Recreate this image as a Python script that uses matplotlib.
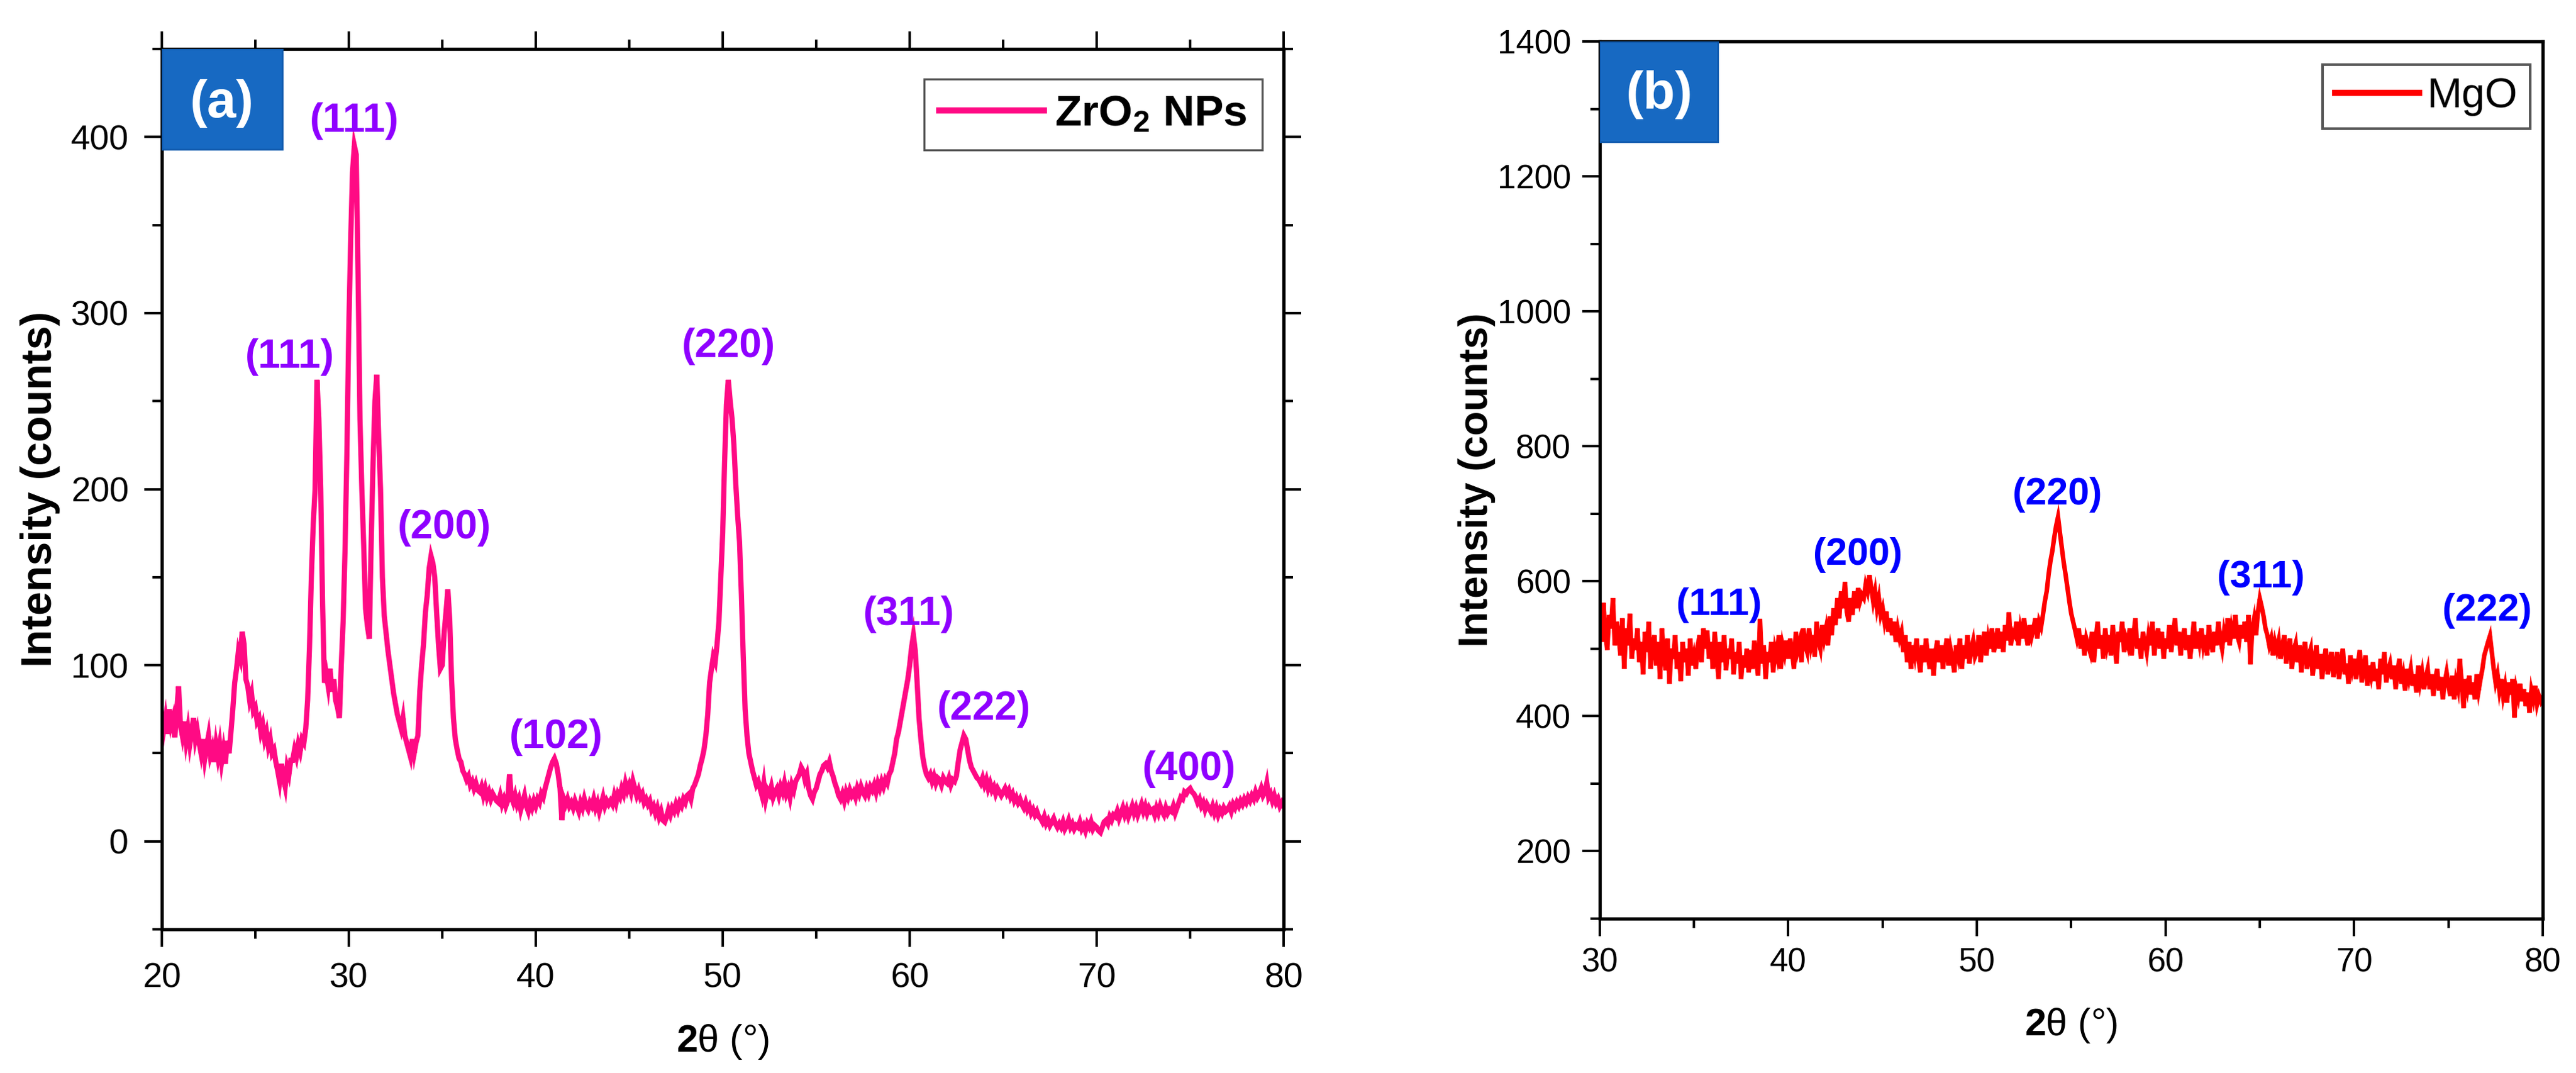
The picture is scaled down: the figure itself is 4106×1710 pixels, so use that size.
import numpy as np
import matplotlib
matplotlib.use("Agg")
import matplotlib.pyplot as plt
from matplotlib.patches import Rectangle
from matplotlib.lines import Line2D
from matplotlib.ticker import MultipleLocator

plt.rcParams['font.family'] = ['Liberation Sans', 'DejaVu Sans']
plt.rcParams['mathtext.fontset'] = 'custom'
plt.rcParams['mathtext.rm'] = 'Liberation Sans'
plt.rcParams['mathtext.bf'] = 'Liberation Sans:bold'
plt.rcParams['mathtext.it'] = 'Liberation Sans:italic'

# ---------------- data: panel (a) ZrO2 NPs, 2theta 20..80 step 0.1 ----------------
zro2_start, zro2_step = 20.0, 0.1
zro2_counts = [
    72, 63, 70, 61, 75, 66, 70, 59, 74, 88,      # 20
    66, 60, 68, 57, 64, 55, 62, 70, 58, 63,      # 21
    56, 50, 58, 47, 54, 60, 49, 53, 45, 55,      # 22
    48, 55, 45, 52, 44, 57, 50, 62, 75, 90,      # 23
    98, 108, 104, 119, 112, 92, 88, 80, 84, 74,  # 24
    76, 68, 70, 62, 66, 58, 62, 54, 58, 50,      # 25
    52, 45, 40, 34, 44, 36, 31, 42, 38, 46,      # 26
    46, 52, 48, 55, 51, 58, 56, 64, 80, 110,     # 27
    150, 180, 200, 262, 240, 200, 135, 90, 95, 88,   # 28
    98, 85, 92, 80, 76, 70, 100, 125, 165, 220,      # 29
    290, 340, 380, 395, 390, 320, 240, 200, 168, 132,  # 30
    122, 115, 170, 215, 250, 265, 230, 200, 150, 128,  # 31
    118, 108, 100, 92, 84, 78, 72, 68, 64, 70,   # 32
    60, 56, 52, 48, 58, 50, 56, 60, 85, 100,     # 33
    112, 130, 140, 155, 162, 158, 150, 130, 112, 98,   # 34
    100, 118, 130, 143, 126, 92, 70, 58, 52, 47,  # 35
    45, 40, 38, 35, 37, 32, 34, 30, 33, 29,      # 36
    28, 31, 26, 30, 25, 28, 24, 27, 25, 23,      # 37
    22, 26, 21, 24, 20, 23, 38, 25, 22, 26,      # 38
    21, 24, 18, 22, 26, 20, 17, 22, 19, 23,      # 39
    20, 24, 22, 27, 25, 30, 34, 38, 42, 45,      # 40
    47, 44, 38, 30, 12, 24, 21, 24, 20, 22,      # 41
    19, 23, 20, 17, 22, 19, 24, 20, 18, 22,      # 42
    20, 24, 19, 22, 17, 21, 25, 20, 23, 21,      # 43
    23, 21, 26, 22, 27, 25, 30, 27, 33, 29,      # 44
    32, 28, 34, 30, 26, 29, 25, 27, 22, 24,      # 45
    21, 23, 18, 20, 16, 19, 14, 17, 12, 11,      # 46
    14, 18, 15, 19, 17, 21, 18, 22, 20, 24,      # 47
    22, 26, 27, 24, 30, 32, 35, 38, 43, 47,      # 48
    52, 60, 72, 90, 98, 105, 102, 112, 125, 150,  # 49
    175, 215, 248, 262, 250, 240, 225, 203, 185, 170,  # 50
    140, 105, 75, 60, 50, 45, 40, 36, 32, 34,    # 51
    30, 26, 33, 24, 29, 27, 31, 25, 28, 30,      # 52
    26, 31, 28, 33, 27, 30, 25, 32, 29, 34,      # 53
    36, 38, 42, 40, 35, 38, 30, 26, 24, 28,      # 54
    30, 34, 38, 40, 43, 44, 42, 45, 40, 37,      # 55
    33, 30, 26, 24, 27, 23, 28, 25, 29, 26,      # 56
    28, 25, 30, 27, 31, 28, 26, 30, 27, 31,      # 57
    29, 32, 28, 33, 30, 34, 31, 35, 33, 38,      # 58
    40, 45, 50, 58, 62, 68, 74, 80, 86, 92,      # 59
    100, 110, 117, 108, 90, 70, 58, 48, 42, 38,  # 60
    36, 38, 34, 37, 33, 36, 35, 32, 36, 34,      # 61
    33, 36, 32, 35, 34, 37, 45, 52, 56, 60,      # 62
    58, 52, 46, 42, 40, 38, 36, 35, 33, 36,      # 63
    32, 35, 30, 33, 29, 31, 27, 30, 28, 26,      # 64
    28, 30, 27, 29, 25, 27, 23, 25, 22, 24,      # 65
    21, 19, 22, 18, 20, 16, 18, 15, 17, 14,      # 66
    13, 11, 14, 10, 12, 9, 11, 13, 10, 8,        # 67
    10, 8, 11, 7, 9, 12, 8, 10, 7, 9,            # 68
    8, 11, 7, 9, 6, 10, 8, 11, 7, 9,             # 69
    8, 6, 5, 8, 11, 12, 10, 14, 12, 15,          # 70
    14, 17, 13, 16, 19, 15, 18, 14, 17, 20,      # 71
    16, 19, 15, 18, 21, 17, 20, 16, 19, 17,      # 72
    18, 15, 19, 16, 20, 17, 15, 19, 16, 18,      # 73
    17, 20, 16, 19, 22, 25, 24, 28, 27, 29,      # 74
    30, 28, 27, 25, 22, 24, 20, 22, 18, 21,      # 75
    19, 17, 20, 16, 19, 15, 18, 16, 19, 17,      # 76
    18, 20, 17, 21, 19, 22, 20, 23, 21, 24,      # 77
    22, 25, 23, 26, 24, 28, 25, 27, 30, 26,      # 78
    28, 33, 25, 27, 23, 26, 22, 24, 20, 22,      # 79
    20,                                          # 80
]

# ---------------- data: panel (b) MgO, 2theta 30..80 step 0.1 ----------------
mgo_start, mgo_step = 30.0, 0.1
mgo_counts = [
    545, 510, 568, 522, 498, 550, 530, 575, 505, 540,  # 30
    520, 490, 545, 470, 530, 505, 552, 485, 515, 498,  # 31
    530, 480, 510, 462, 525, 495, 540, 470, 505, 520,  # 32
    475, 510, 455, 530, 490, 468, 515, 448, 500, 485,  # 33
    520, 470, 495, 452, 510, 480, 500, 460, 515, 475,  # 34
    490, 470, 505, 520, 480, 530, 500, 527, 485, 510,  # 35
    470, 525, 490, 455, 510, 480, 520, 468, 500, 485,  # 36
    515, 462, 495, 478, 510, 455, 490, 472, 500, 465,  # 37
    498, 470, 512, 482, 460, 544, 478, 505, 455, 495,  # 38
    480, 510, 465, 500, 488, 520, 470, 505, 492, 512,  # 39
    485, 515, 495, 470, 525, 498, 510, 480, 530, 505,  # 40
    495, 530, 505, 520, 488, 540, 512, 500, 535, 515,  # 41
    530, 505, 548, 520, 560, 535, 575, 545, 585, 560,  # 42
    599, 555, 540, 575, 550, 585, 560, 590, 570, 580,  # 43
    575, 595, 585, 609, 590, 570, 585, 560, 575, 550,  # 44
    560, 540, 555, 525, 545, 520, 540, 510, 530, 515,  # 45
    525, 495, 520, 480, 510, 470, 505, 490, 515, 485,  # 46
    465, 505, 480, 515, 490, 470, 500, 460, 495, 512,  # 47
    480, 505, 470, 495, 515, 475, 500, 485, 465, 505,  # 48
    490, 515, 470, 505, 485, 520, 478, 500, 512, 488,  # 49
    495, 520, 480, 510, 525, 490, 515, 500, 530, 495,  # 50
    510, 530, 500, 525, 495, 535, 512, 554, 505, 525,  # 51
    520, 540, 505, 530, 515, 545, 520, 505, 535, 518,  # 52
    530, 545, 515, 540, 532, 550, 570, 585, 610, 630,  # 53
    645, 665, 682, 695, 672, 650, 628, 610, 590, 570,  # 54
    552, 540, 528, 515, 530, 500, 520, 490, 515, 505,  # 55
    495, 525, 480, 515, 540, 500, 520, 485, 530, 505,  # 56
    520, 490, 535, 505, 478, 525, 510, 540, 495, 515,  # 57
    505, 530, 490, 520, 545, 500, 515, 485, 525, 510,  # 58
    495, 520, 505, 540, 490, 515, 530, 500, 525, 485,  # 59
    515, 500, 535, 495, 520, 545, 505, 525, 490, 515,  # 60
    530, 498, 520, 485, 510, 540, 500, 525, 508, 530,  # 61
    505, 520, 490, 535, 510, 495, 525, 505, 540, 515,  # 62
    500, 525, 510, 545, 505, 530, 515, 550, 520, 510,  # 63
    535, 515, 540, 510, 550, 477, 530, 545, 520, 555,  # 64
    574, 562, 548, 530, 520, 505, 515, 490, 510, 498,  # 65
    512, 485, 505, 520, 478, 500, 515, 470, 498, 508,  # 66
    480, 505, 465, 495, 510, 470, 490, 500, 460, 485,  # 67
    505, 470, 492, 455, 485, 500, 462, 480, 495, 458,  # 68
    475, 495, 455, 480, 500, 462, 478, 448, 490, 470,  # 69
    485, 455, 478, 498, 450, 470, 490, 445, 475, 460,  # 70
    480, 452, 470, 440, 485, 462, 495, 450, 468, 478,  # 71
    455, 475, 440, 468, 485, 448, 462, 438, 470, 455,  # 72
    470, 445, 462, 435, 475, 450, 465, 440, 458, 470,  # 73
    440, 462, 430, 455, 470, 438, 458, 425, 450, 465,  # 74
    445, 430, 460, 425, 452, 440, 485, 450, 412, 455,  # 75
    440, 460, 432, 450, 425, 462, 438, 455, 470, 490,  # 76
    500, 510, 519, 495, 470, 450, 462, 438, 455, 430,  # 77
    445, 420, 450, 432, 455, 398, 440, 428, 448, 422,  # 78
    440, 415, 435, 405, 438, 425, 445, 418, 430, 422,  # 79
    428,                                               # 80
]

# peak labels
zro2_labels = ['(111)', '(111)', '(200)', '(102)', '(220)', '(311)', '(222)', '(400)']
zro2_label_x = [30.3, 26.86, 35.1, 41.1, 50.3, 59.97, 63.97, 74.96]
zro2_label_y = [409, 275, 178, 59, 281, 129, 75, 41]

mgo_labels = ['(111)', '(200)', '(220)', '(311)', '(222)']
mgo_label_x = [36.32, 43.69, 54.27, 65.05, 77.06]
mgo_label_y = [564, 639, 728, 605, 556]

zro2_x = zro2_start + zro2_step * np.arange(len(zro2_counts))
mgo_x = mgo_start + mgo_step * np.arange(len(mgo_counts))

PINK = '#FF0A84'
RED = '#FF0000'
PURPLE = '#8F00FF'
BLUE = '#0000FF'
BOX = '#1769C2'

fig = plt.figure(figsize=(20.53, 8.55), dpi=200)
axa = fig.add_axes([0.0628, 0.1339, 0.4355, 0.8205])
axb = fig.add_axes([0.6210, 0.1439, 0.3661, 0.8175])

# ---------- panel (a) ----------
axa.plot(zro2_x, zro2_counts, color=PINK, lw=3.0, solid_joinstyle='miter')
axa.set_xlim(20, 80)
axa.set_ylim(-50, 450)
axa.xaxis.set_major_locator(MultipleLocator(10))
axa.xaxis.set_minor_locator(MultipleLocator(5))
axa.yaxis.set_major_locator(MultipleLocator(100))
axa.yaxis.set_minor_locator(MultipleLocator(50))
axa.tick_params(which='both', direction='out', top=True, right=True,
                labeltop=False, labelright=False, width=1.4)
axa.tick_params(which='major', length=10, labelsize=20, pad=9)
axa.tick_params(which='minor', length=5.5)
for s in axa.spines.values():
    s.set_linewidth(1.9)
axa.set_ylabel('Intensity (counts)', fontsize=24.5, fontweight='bold', labelpad=6)
axa.set_xlabel(r'$\mathbf{2}$θ (°)', fontsize=22, labelpad=16)
for t, x, y in zip(zro2_labels, zro2_label_x, zro2_label_y):
    axa.text(x, y, t, color=PURPLE, fontsize=23, fontweight='bold',
             ha='center', va='center')
axa.add_patch(Rectangle((0.0, 0.886), 0.1075, 0.114, transform=axa.transAxes,
                        facecolor=BOX, edgecolor='#0F5AAE', lw=1, zorder=5))
axa.text(0.0537, 0.938, '(a)', transform=axa.transAxes, color='white',
         fontsize=30, fontweight='bold', ha='center', va='center', zorder=6)
leg = axa.legend([Line2D([], [], color=PINK, lw=3.5)], [r'ZrO$_\mathbf{2}$ NPs'],
                 loc='upper right', bbox_to_anchor=(0.981, 0.9658),
                 borderaxespad=0, prop={'weight': 'bold', 'size': 25},
                 handlelength=2.4, handletextpad=0.25, borderpad=0.35,
                 fancybox=False, edgecolor='#555555', framealpha=1)
leg.get_frame().set_linewidth(1.2)

# ---------- panel (b) ----------
axb.plot(mgo_x, mgo_counts, color=RED, lw=2.6, solid_joinstyle='miter')
axb.set_xlim(30, 80)
axb.set_ylim(100, 1400)
axb.xaxis.set_major_locator(MultipleLocator(10))
axb.xaxis.set_minor_locator(MultipleLocator(5))
axb.yaxis.set_major_locator(MultipleLocator(200))
axb.yaxis.set_minor_locator(MultipleLocator(100))
axb.tick_params(which='both', direction='out', top=False, right=False, width=1.4)
axb.tick_params(which='major', length=10, labelsize=19, pad=6.5)
axb.tick_params(which='minor', length=5.5)
for s in axb.spines.values():
    s.set_linewidth(1.9)
axb.set_ylabel('Intensity (counts)', fontsize=23, fontweight='bold', labelpad=1)
axb.set_xlabel(r'$\mathbf{2}$θ (°)', fontsize=22, labelpad=16)
for t, x, y in zip(mgo_labels, mgo_label_x, mgo_label_y):
    axb.text(x, y, t, color=BLUE, fontsize=22, fontweight='bold',
             ha='center', va='center')
axb.add_patch(Rectangle((0.0, 0.8856), 0.125, 0.1144, transform=axb.transAxes,
                        facecolor=BOX, edgecolor='#0F5AAE', lw=1, zorder=5))
axb.text(0.0632, 0.939, '(b)', transform=axb.transAxes, color='white',
         fontsize=30, fontweight='bold', ha='center', va='center', zorder=6)
legb = axb.legend([Line2D([], [], color=RED, lw=3.5)], ['MgO'],
                  loc='upper right', bbox_to_anchor=(0.987, 0.9735),
                  borderaxespad=0, prop={'size': 24},
                  handlelength=2.0, handletextpad=0.2, borderpad=0.3,
                  fancybox=False, edgecolor='#555555', framealpha=1)
legb.get_frame().set_linewidth(1.5)

fig.savefig('out.png', dpi=200)
